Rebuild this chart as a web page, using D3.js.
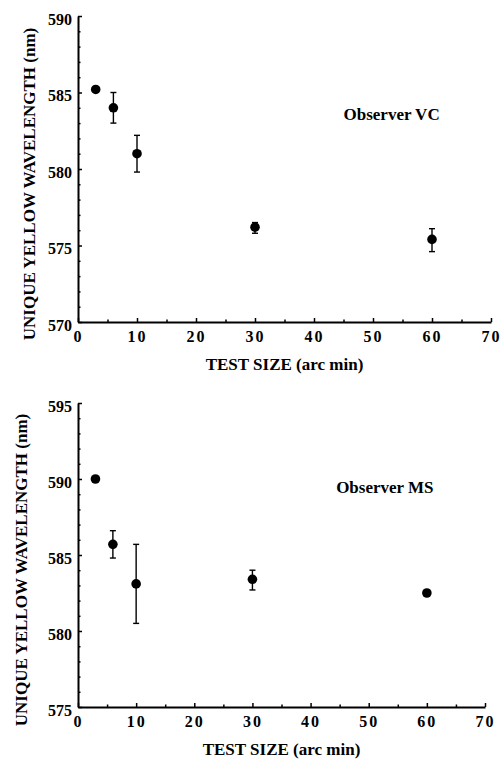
<!DOCTYPE html>
<html>
<head>
<meta charset="utf-8">
<script src="https://cdn.jsdelivr.net/npm/d3@7"></script>
<style>
  body { margin: 0; background: #fff; }
</style>
</head>
<body>
<script>
var width = 500;
var height = 760;
var serif = "'Liberation Serif', 'Times New Roman', Times, serif";

// test sizes (arc min)
var sizes = [3, 6, 10, 30, 60];

// observer VC
var vcMean = [585.2, 584.0, 581.0, 576.2, 575.4];
var vcLow  = [585.2, 583.0, 579.8, 575.8, 574.6];
var vcHigh = [585.2, 585.0, 582.2, 576.5, 576.1];

// observer MS
var msMean = [590.0, 585.7, 583.1, 583.4, 582.5];
var msLow  = [590.0, 584.8, 580.5, 582.7, 582.5];
var msHigh = [590.0, 586.6, 585.7, 584.0, 582.5];

var xTicks = [0, 10, 20, 30, 40, 50, 60, 70];
var xMinor = [5, 15, 25, 35, 45, 55, 65];
var vcTicks = [570, 575, 580, 585, 590];
var msTicks = [575, 580, 585, 590, 595];

var svg = d3.select('body')
            .append('svg')
            .attr('width', width)
            .attr('height', height)
            .style('font-family', serif)
            .style('font-weight', 'bold');

var panels = [
  { name: 'Observer VC', mean: vcMean, low: vcLow, high: vcHigh, yDomain: [570, 590], yTicks: vcTicks,
    left: 78, right: 491, top: 16, bottom: 322, yTitleX: 35, xTitleY: 370, label: [45, 583.2] },
  { name: 'Observer MS', mean: msMean, low: msLow, high: msHigh, yDomain: [575, 595], yTicks: msTicks,
    left: 78, right: 485, top: 403, bottom: 707, yTitleX: 27, xTitleY: 755, label: [44.4, 589.1] }
];

function styleText(sel, size) {
  sel.attr('font-size', size)
     .attr('fill', '#000')
     .style('font-family', serif)
     .style('font-weight', 'bold');
}

panels.forEach(function (p) {
  var x = d3.scaleLinear().domain([0, 70]).range([p.left, p.right]);
  var y = d3.scaleLinear().domain(p.yDomain).range([p.bottom, p.top]);

  var yMinor = d3.range(p.yDomain[0], p.yDomain[1] + 1).filter(function (v) { return v % 5 !== 0; });

  // minor ticks
  svg.append('g')
     .attr('transform', 'translate(0,' + p.bottom + ')')
     .call(d3.axisBottom(x).tickValues(xMinor).tickSize(-2.5).tickFormat(''))
     .call(function (g) { g.select('.domain').remove(); g.selectAll('line').attr('stroke-width', 1.5); });
  svg.append('g')
     .attr('transform', 'translate(' + p.left + ',0)')
     .call(d3.axisLeft(y).tickValues(yMinor).tickSize(-2.5).tickFormat(''))
     .call(function (g) { g.select('.domain').remove(); g.selectAll('line').attr('stroke-width', 1.5); });

  // main axes
  svg.append('g')
     .attr('transform', 'translate(0,' + p.bottom + ')')
     .call(d3.axisBottom(x).tickValues(xTicks).tickSizeInner(-4).tickSizeOuter(0).tickPadding(9))
     .call(function (g) {
       g.attr('font-family', null);
       g.select('.domain').attr('stroke-width', 2);
       g.selectAll('line').attr('stroke-width', 1.5);
       g.selectAll('text').call(styleText, 16).style('letter-spacing', '2px');
     });
  svg.append('g')
     .attr('transform', 'translate(' + p.left + ',0)')
     .call(d3.axisLeft(y).tickValues(p.yTicks).tickSizeInner(-4).tickSizeOuter(0).tickPadding(6))
     .call(function (g) {
       g.attr('font-family', null);
       g.select('.domain').attr('stroke-width', 2);
       g.selectAll('line').attr('stroke-width', 1.5);
       g.selectAll('text').call(styleText, 16).attr('dy', '0.5em');
     });

  // error bars
  var idx = d3.range(sizes.length).filter(function (i) { return p.high[i] !== p.low[i]; });
  var eb = svg.append('g').attr('stroke', '#000').attr('stroke-width', 1.4);
  eb.selectAll('.stem').data(idx).enter().append('line')
    .attr('x1', function (i) { return x(sizes[i]); })
    .attr('x2', function (i) { return x(sizes[i]); })
    .attr('y1', function (i) { return y(p.low[i]); })
    .attr('y2', function (i) { return y(p.high[i]); });
  eb.selectAll('.capHi').data(idx).enter().append('line')
    .attr('x1', function (i) { return x(sizes[i]) - 3; })
    .attr('x2', function (i) { return x(sizes[i]) + 3; })
    .attr('y1', function (i) { return y(p.high[i]); })
    .attr('y2', function (i) { return y(p.high[i]); });
  eb.selectAll('.capLo').data(idx).enter().append('line')
    .attr('x1', function (i) { return x(sizes[i]) - 3; })
    .attr('x2', function (i) { return x(sizes[i]) + 3; })
    .attr('y1', function (i) { return y(p.low[i]); })
    .attr('y2', function (i) { return y(p.low[i]); });

  // points
  svg.append('g').selectAll('circle')
     .data(sizes)
     .enter()
     .append('circle')
     .attr('cx', function (d) { return x(d); })
     .attr('cy', function (d, i) { return y(p.mean[i]); })
     .attr('r', 4.8)
     .attr('fill', '#000');

  // titles
  svg.append('text')
     .attr('transform', 'translate(' + p.yTitleX + ',' + ((p.top + p.bottom) / 2 + 15) + ') rotate(-90)')
     .attr('text-anchor', 'middle')
     .call(styleText, 17)
     .text('UNIQUE YELLOW WAVELENGTH (nm)');
  svg.append('text')
     .attr('x', (p.left + p.right) / 2)
     .attr('y', p.xTitleY)
     .attr('text-anchor', 'middle')
     .call(styleText, 17)
     .text('TEST SIZE (arc min)');
  svg.append('text')
     .attr('x', x(p.label[0]))
     .attr('y', y(p.label[1]))
     .call(styleText, 17)
     .text(p.name);
});
</script>
</body>
</html>
